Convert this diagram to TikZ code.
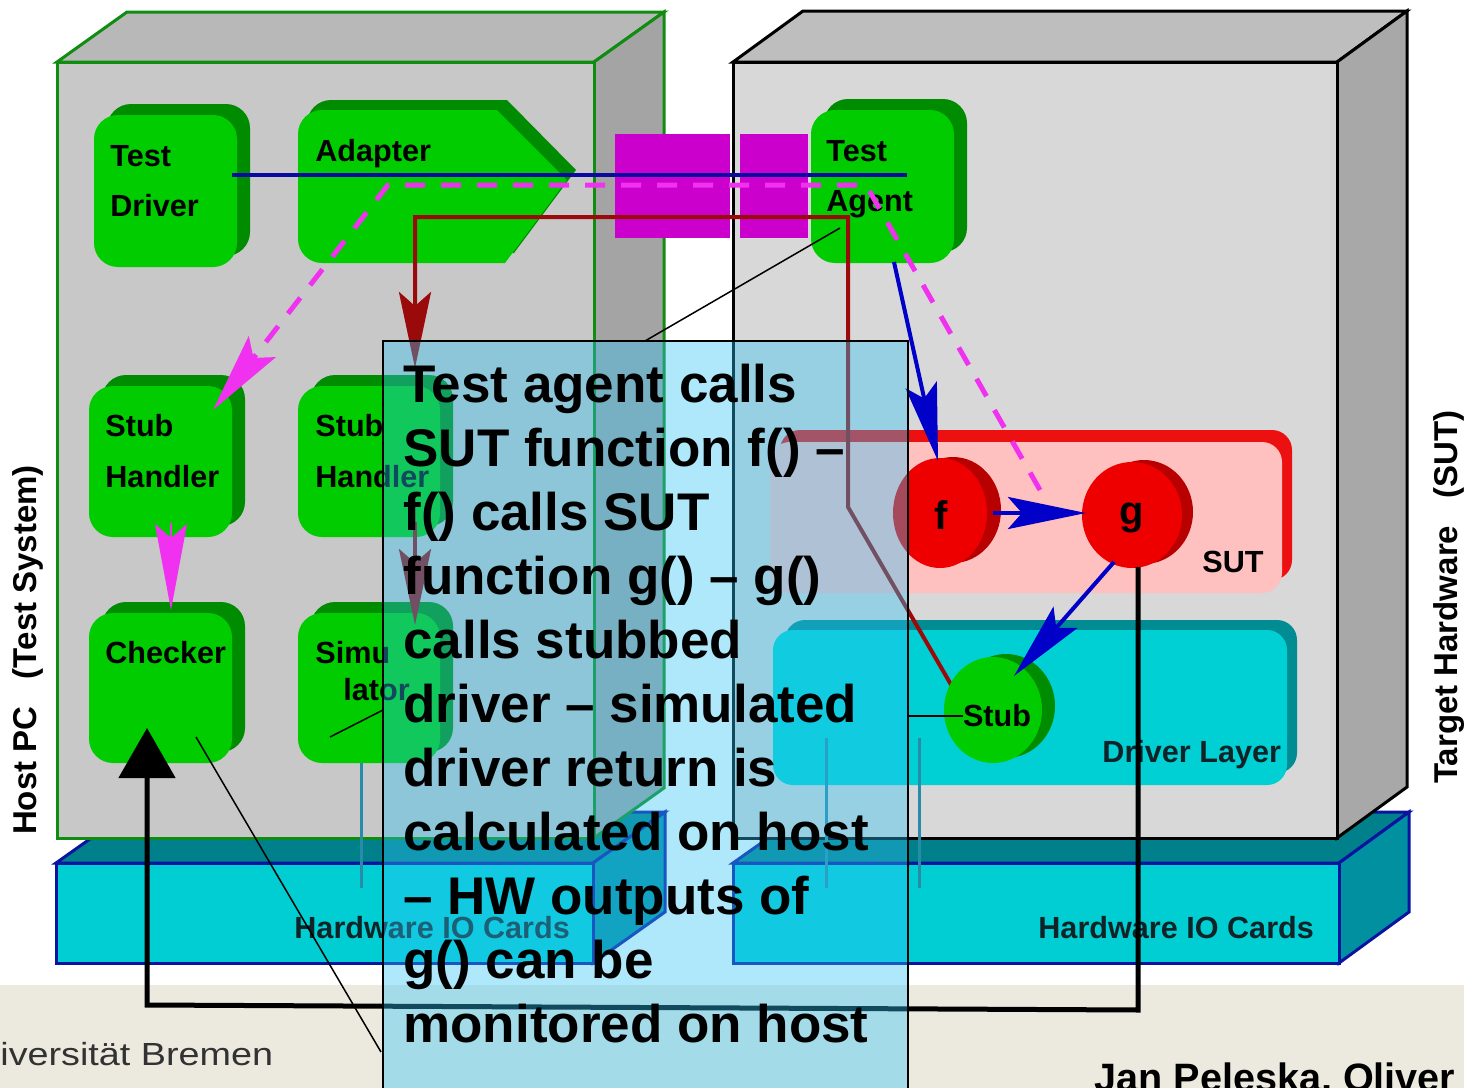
\documentclass[tikz,border=0pt]{standalone}
\usepackage{fontspec}
\setmainfont{Liberation Sans}
\usetikzlibrary{arrows.meta, shapes.geometric, fit}

\definecolor{hostfront}{RGB}{200,200,200}
\definecolor{hosttop}{RGB}{184,184,184}
\definecolor{hostside}{RGB}{164,164,164}
\definecolor{hostedge}{RGB}{16,140,16}
\definecolor{tgtfront}{RGB}{216,216,216}
\definecolor{tgttop}{RGB}{190,190,190}
\definecolor{tgtside}{RGB}{168,168,168}
\definecolor{cardfront}{RGB}{0,206,210}
\definecolor{cardtop}{RGB}{0,128,138}
\definecolor{cardside}{RGB}{0,144,160}
\definecolor{cardedge}{RGB}{10,20,160}
\definecolor{gbright}{RGB}{0,204,0}
\definecolor{gdark}{RGB}{0,140,0}
\definecolor{rbright}{RGB}{238,0,0}
\definecolor{rdark}{RGB}{185,0,0}
\definecolor{sutpink}{RGB}{255,192,192}
\definecolor{sutred}{RGB}{236,16,16}
\definecolor{drvcyan}{RGB}{0,208,212}
\definecolor{drvteal}{RGB}{0,140,146}
\definecolor{linkmag}{RGB}{204,0,204}
\definecolor{dashmag}{RGB}{240,50,240}
\definecolor{navyline}{RGB}{10,10,160}
\definecolor{callblue}{RGB}{0,0,200}
\definecolor{darkred}{RGB}{155,10,10}
\definecolor{ioteal}{RGB}{40,140,168}
\definecolor{notefill}{RGB}{47,195,247}
\definecolor{footbeige}{RGB}{236,234,223}
\definecolor{footgray}{RGB}{50,50,50}
\definecolor{labeldark}{RGB}{16,36,40}

\tikzset{
  boxlabel/.style={font=\fontsize{15.3}{18}\selectfont\bfseries, inner sep=0pt, anchor=base west},
  disclabel/.style={font=\fontsize{20}{24}\selectfont\bfseries, inner sep=0pt, anchor=base},
  sidelabel/.style={font=\fontsize{16.5}{20}\selectfont\bfseries, inner sep=0pt, anchor=base, rotate=90},
  notetext/.style={font=\fontsize{26.5}{32}\selectfont\bfseries, inner sep=0pt, anchor=base west},
  gfront/.style={fill=gbright, rounded corners=12pt, inner sep=0pt},
  facedraw/.style={line width=1.5pt, line join=miter},
  ioline/.style={ioteal, line width=1.5pt},
  pointer/.style={black, line width=0.75pt},
  blueline/.style={navyline, line width=2pt},
  bluearrow/.style={callblue, line width=2pt, -{Stealth[length=39pt, width=16pt, inset=7pt]}},
  redarrow/.style={darkred, line width=2pt, -{Stealth[length=38pt, width=16pt, inset=7pt]}},
  magarrow/.style={dashmag, line width=2.5pt, dash pattern=on 10pt off 8pt,
                   -{Stealth[length=40pt, width=17pt, inset=7pt]}},
  magsolid/.style={dashmag, line width=1pt, -{Stealth[length=43pt, width=16pt, inset=7pt]}},
  feedback/.style={black, line width=2.5pt, -{Triangle[length=25pt, width=28pt]}},
}

% green module: dark back plate and bright front plate (named node)
\newcommand\greenbox[5]{%
  \fill[gdark, rounded corners=12pt] ({#2+13},{#3}) rectangle ({#4},{#5-11});
  \node[gfront, fit={({#2},{#3+11}) ({#4-13},{#5})}] (#1) {};
}

\begin{document}
\begin{tikzpicture}[x=0.5pt, y=-0.5pt]
\useasboundingbox (0,0) rectangle (1464,1088);
\fill[white] (0,0) rectangle (1464,1088);
\fill[footbeige] (0,985) rectangle (1464,1088);

% ---------- hardware IO cards ----------
\filldraw[facedraw, fill=cardtop, draw=cardedge] (56,863) -- (128,812) -- (665,812) -- (593,863) -- cycle;
\filldraw[facedraw, fill=cardside, draw=cardedge] (593,863) -- (665,812) -- (665,912) -- (593,963) -- cycle;
\filldraw[facedraw, fill=cardfront, draw=cardedge] (56,863) rectangle (593,963);

\filldraw[facedraw, fill=cardtop, draw=cardedge] (733,863) -- (805,812) -- (1409,812) -- (1339,863) -- cycle;
\filldraw[facedraw, fill=cardside, draw=cardedge] (1339,863) -- (1409,812) -- (1409,912) -- (1339,963) -- cycle;
\filldraw[facedraw, fill=cardfront, draw=cardedge] (733,863) rectangle (1339,963);

% ---------- host PC cabinet ----------
\filldraw[facedraw, fill=hosttop, draw=hostedge] (57,62) -- (127,12) -- (664,12) -- (594,62) -- cycle;
\filldraw[facedraw, fill=hostside, draw=hostedge] (594,62) -- (664,12) -- (664,788) -- (594,838) -- cycle;
\filldraw[facedraw, fill=hostfront, draw=hostedge] (57,62) rectangle (594,838);

% ---------- target hardware cabinet ----------
\filldraw[facedraw, fill=tgttop, draw=black] (733,62) -- (803,11) -- (1407,11) -- (1337,62) -- cycle;
\filldraw[facedraw, fill=tgtside, draw=black] (1337,62) -- (1407,11) -- (1407,787) -- (1337,838) -- cycle;
\filldraw[facedraw, fill=tgtfront, draw=black] (733,62) rectangle (1337,838);

% ---------- link between host and target ----------
\fill[linkmag] (615,134) rectangle (730,238);
\fill[linkmag] (740,134) rectangle (808,238);

% ---------- SUT and driver layer regions ----------
\fill[sutred, rounded corners=10pt] (780,430) rectangle (1292,580);
\fill[sutpink, rounded corners=10pt] (770,442) rectangle (1282,593);
\fill[drvteal, rounded corners=10pt] (785,620) rectangle (1297,773);
\fill[drvcyan, rounded corners=10pt] (773,630) rectangle (1287,785);

% IO wiring down to the cards
\coordinate (io1a) at (361,738); \coordinate (io1b) at (361,888);
\coordinate (io2a) at (826,738); \coordinate (io2b) at (826,888);
\coordinate (io3a) at (919,738); \coordinate (io3b) at (919,888);
\draw[ioline] (io1a) -- (io1b);
\draw[ioline] (io2a) -- (io2b);
\draw[ioline] (io3a) -- (io3b);

% ---------- green modules ----------
\greenbox{driver}{94}{104}{250}{267}
\greenbox{stubA}{89}{375}{245}{537}
\greenbox{checker}{89}{602}{245}{763}
\greenbox{stubB}{298}{375}{453}{537}
\greenbox{sim}{298}{602}{453}{763}
\greenbox{agent}{811}{99}{967}{263}

% adapter: arrow-shaped module
\fill[gdark] (410,100) -- (507,100) -- (576,170) -- (514,253) -- (410,253)
  [rounded corners=12pt] -- (307,253) -- (307,100) -- cycle;
\fill[gbright] (400,110) -- (497,110) -- (567,180) -- (505,263) -- (400,263)
  [rounded corners=12pt] -- (298,263) -- (298,110) -- cycle;

% module labels
\node[boxlabel] (driver-a) at (110,166) {Test};
\node[boxlabel] (driver-b) at (110,216) {Driver};
\node[boxlabel] (adapter-t) at (315,161) {Adapter};
\node[boxlabel] (stubA-a) at (105,436) {Stub};
\node[boxlabel] (stubA-b) at (105,487) {Handler};
\node[boxlabel] (stubB-a) at (315,436) {Stub};
\node[boxlabel] (stubB-b) at (315,487) {Handler};
\node[boxlabel] (checker-t) at (105,663) {Checker};
\node[boxlabel] (sim-a) at (315,663) {Simu};
\node[boxlabel] (sim-b) at (343,700) {lator};
\node[boxlabel] (agent-a) at (826,161) {Test};
\node[boxlabel] (agent-b) at (826,211) {Agent};
\node[boxlabel] (sut-t) at (1202,572) {SUT};
\node[boxlabel, text=labeldark] (drv-t) at (1102,762) {Driver Layer};
\node[boxlabel, text=labeldark] (cardL-t) at (294,938) {Hardware IO Cards};
\node[boxlabel, text=labeldark] (cardR-t) at (1038,938) {Hardware IO Cards};

% ---------- connectors behind the discs ----------
\coordinate (bl-start) at (232,175);
\coordinate (bl-end) at (907,175);
\draw[blueline] (bl-start) -- (bl-end);

\coordinate (dm-g) at (1040,490);
\coordinate (dm-ta) at (866,185);
\coordinate (dm-ad) at (388,185);
\coordinate (dm-tip) at (213,410);
\draw[magarrow] (dm-g) -- (dm-ta) -- (dm-ad) -- (dm-tip);

\coordinate (ms-from) at (171,523);
\coordinate (ms-tip) at (171,610);
\draw[magsolid] (ms-from) -- (ms-tip);

\coordinate (dr-stub) at (953,688);
\coordinate (dr-bend) at (848,507);
\coordinate (dr-top) at (848,217);
\coordinate (dr-left) at (415,217);
\coordinate (dr-tip1) at (415,368);
\coordinate (dr-from2) at (415,522);
\coordinate (dr-tip2) at (415,625);
\draw[redarrow] (dr-stub) -- (dr-bend) -- (dr-top) -- (dr-left) -- (dr-tip1);
\draw[redarrow] (dr-from2) -- (dr-tip2);

% ---------- function discs ----------
\node[ellipse, fill=rdark, inner sep=0pt, minimum width=48pt, minimum height=53pt] (f-back) at (953,510) {};
\node[ellipse, fill=rbright, inner sep=0pt, minimum width=47pt, minimum height=55pt] (f) at (940,513) {};
\node[ellipse, fill=rdark, inner sep=0pt, minimum width=49pt, minimum height=52pt] (g-back) at (1144,512) {};
\node[ellipse, fill=rbright, inner sep=0pt, minimum width=50pt, minimum height=53pt] (g) at (1132,515) {};
\node[ellipse, fill=gdark, inner sep=0pt, minimum width=49pt, minimum height=52pt] (stub-back) at (1006,706) {};
\node[ellipse, fill=gbright, inner sep=0pt, minimum width=49pt, minimum height=53pt] (stub) at (993,710) {};
\node[disclabel] (f-t) at (941,529) {f};
\node[disclabel] (g-t) at (1132,524) {g};
\node[boxlabel, anchor=base] (stub-t) at (997,726) {Stub};

% ---------- call arrows ----------
\coordinate (ba1-from) at (894,262);
\coordinate (ba1-tip) at (938,461);
\coordinate (ba2-from) at (993,513);
\coordinate (ba2-tip) at (1086,513);
\coordinate (ba3-from) at (1114,562);
\coordinate (ba3-tip) at (1014,676);
\draw[bluearrow] (ba1-from) -- (ba1-tip);
\draw[bluearrow] (ba2-from) -- (ba2-tip);
\draw[bluearrow] (ba3-from) -- (ba3-tip);

% monitored outputs back to the checker
\coordinate (fb-g) at (1138,567);
\coordinate (fb-r) at (1138,1010);
\coordinate (fb-l) at (147,1005);
\coordinate (fb-tip) at (147,728);
\draw[feedback] (fb-g) -- (fb-r) -- (fb-l) -- (fb-tip);

% ---------- explanatory note ----------
\fill[notefill, fill opacity=0.38] (383,341) rectangle (908,1100);
\draw[line width=0.7pt] (383,1100) -- (383,341) -- (908,341) -- (908,1100);
\coordinate (note-nw) at (383,341);

\foreach \t [count=\i from 0] in {Test agent calls, SUT function f() –, f() calls SUT,
  function g() – g(), calls stubbed, driver – simulated, driver return is,
  calculated on host, – HW outputs of, g() can be, monitored on host}
  \node[notetext] (note-\i) at (403,{402+64*\i}) {\t};

\coordinate (p1a) at (645,341); \coordinate (p1b) at (840,228);
\coordinate (p2a) at (383,710); \coordinate (p2b) at (330,737);
\coordinate (p3a) at (381,1052); \coordinate (p3b) at (196,737);
\coordinate (p4a) at (908,716); \coordinate (p4b) at (963,716);
\draw[pointer] (p1a) -- (p1b);
\draw[pointer] (p2a) -- (p2b);
\draw[pointer] (p3a) -- (p3b);
\draw[pointer] (p4a) -- (p4b);

% ---------- side captions and footer ----------
\node[sidelabel] (host-cap) at (36,650) {Host PC\ \ \ (Test System)};
\node[sidelabel] (target-cap) at (1457,597) {Target Hardware\ \ \ (SUT)};
\node[anchor=base west, inner sep=0pt, font=\fontsize{16}{18}\selectfont, text=footgray]
  (uni) at (0,1065) {\scalebox{1.18}[1]{iversität Bremen}};
\node[anchor=base west, inner sep=0pt, font=\fontsize{19.8}{22}\selectfont\bfseries]
  (author) at (1094,1091) {Jan Peleska, Oliver};
\end{tikzpicture}
\end{document}
